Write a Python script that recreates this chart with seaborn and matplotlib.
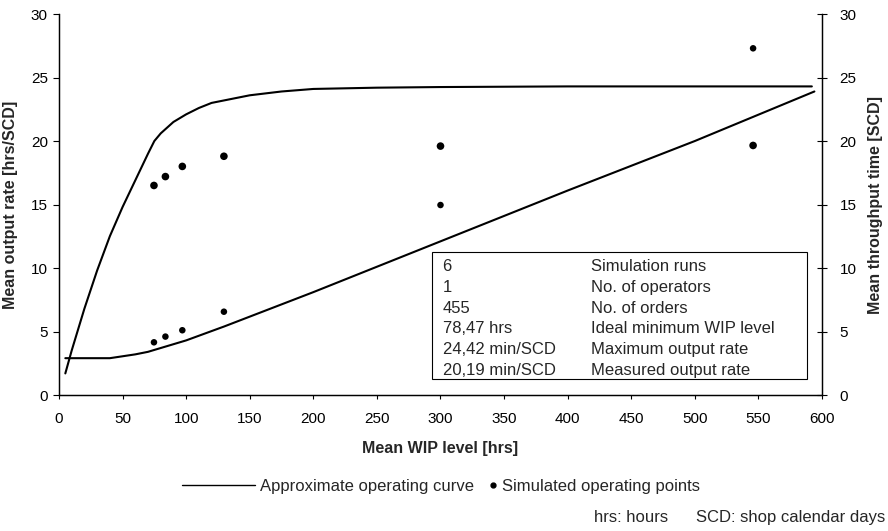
import matplotlib
matplotlib.use("Agg")
import matplotlib.pyplot as plt
import seaborn as sns
import pandas as pd
from matplotlib.lines import Line2D
from matplotlib.patches import Rectangle

sns.set_style("white")
plt.rcParams['font.family'] = ['Liberation Sans', 'DejaVu Sans']
plt.rcParams['font.size'] = 12

# approximate operating curve - output rate (left axis)
wip_out = [5, 10, 20, 30, 40, 50, 60, 70, 75, 80, 90, 100, 110, 120, 130, 150, 175, 200, 250, 300, 400, 500, 592]
rate_out = [1.7, 3.5, 6.8, 9.8, 12.5, 14.8, 16.9, 19.0, 20.0, 20.6, 21.5, 22.1, 22.6, 23.0, 23.2, 23.6, 23.9, 24.1, 24.2, 24.25, 24.3, 24.3, 24.3]

# approximate operating curve - throughput time (right axis)
wip_tt = [5, 20, 40, 50, 60, 70, 80, 90, 100, 130, 200, 300, 400, 500, 594]
time_tt = [2.9, 2.9, 2.9, 3.05, 3.2, 3.4, 3.7, 4.0, 4.3, 5.4, 8.1, 12.1, 16.1, 20.0, 23.9]

# simulated operating points
sim_wip = [74.7, 83.7, 97, 129.7, 300, 545.8]
sim_rate = [16.5, 17.2, 18.0, 18.8, 19.6, 19.65]
sim_time = [4.15, 4.6, 5.1, 6.56, 14.96, 27.3]

info_values = ['6', '1', '455', '78,47 hrs', '24,42 min/SCD', '20,19 min/SCD']
info_labels = ['Simulation runs', 'No. of operators', 'No. of orders',
               'Ideal minimum WIP level', 'Maximum output rate', 'Measured output rate']

out_df = pd.DataFrame({'wip': wip_out, 'val': rate_out})
tt_df = pd.DataFrame({'wip': wip_tt, 'val': time_tt})
sim_df = pd.DataFrame({'wip': sim_wip, 'rate': sim_rate, 'time': sim_time})

fig = plt.figure(figsize=(8.88, 5.31), dpi=100)
ax = fig.add_axes([0.0664, 0.2561, 0.8593, 0.7175])
ax2 = ax.twinx()

sns.lineplot(data=out_df, x='wip', y='val', ax=ax, color='black', linewidth=1.5)
sns.scatterplot(data=sim_df, x='wip', y='rate', ax=ax, color='black', s=30, edgecolor='none')
sns.lineplot(data=tt_df, x='wip', y='val', ax=ax2, color='black', linewidth=1.5)
sns.scatterplot(data=sim_df, x='wip', y='time', ax=ax2, color='black', s=22, edgecolor='none')

for a in (ax, ax2):
    a.set_xlim(0, 600)
    a.set_ylim(0, 30)
    a.set_yticks(range(0, 31, 5))
    a.spines['top'].set_visible(False)
    for s in a.spines.values():
        s.set_color('black')
        s.set_linewidth(0.9)

ax.set_xticks(range(0, 601, 50))
ax.tick_params(axis='x', direction='out', length=3, width=0.8, colors='black',
               labelsize=11, pad=9, bottom=True)
ax.tick_params(axis='y', direction='out', length=4, width=0.8, colors='black',
               labelsize=11, pad=4, left=True)
ax2.tick_params(axis='y', direction='inout', length=7, width=0.8, colors='black',
                labelsize=11, pad=9, right=True)

ax.set_xlabel('Mean WIP level [hrs]', fontweight='bold', fontsize=11.5)
ax.set_ylabel('Mean output rate [hrs/SCD]', fontweight='bold', fontsize=11.5)
ax2.set_ylabel('Mean throughput time [SCD]', fontweight='bold', fontsize=11.5)
ax.xaxis.set_label_coords(0.5, -0.12)
ax.yaxis.set_label_coords(-0.054, 0.5)
ax2.yaxis.set_label_coords(1.060, 0.5)

# info box
ax2.add_patch(Rectangle((293, 1.24), 295, 10.04, fill=False, edgecolor='black', linewidth=0.8, zorder=3))
for i, (v, l) in enumerate(zip(info_values, info_labels)):
    y = 10.1 - i * 1.63
    ax2.text(301.6, y, v, va='center', ha='left', fontsize=12)
    ax2.text(418, y, l, va='center', ha='left', fontsize=12)

# legend below
leg1 = fig.legend(handles=[Line2D([], [], color='black', linewidth=1.0)],
                  labels=['Approximate operating curve'], loc='center left',
                  bbox_to_anchor=(0.2046, 0.0847), frameon=False, handlelength=4.4,
                  handletextpad=0.3, fontsize=12, borderpad=0, borderaxespad=0)
leg2 = fig.legend(handles=[Line2D([], [], color='black', marker='o', linestyle='none', markersize=3.5)],
                  labels=['Simulated operating points'], loc='center left',
                  bbox_to_anchor=(0.551, 0.0847), frameon=False, handlelength=0.4,
                  handletextpad=0.35, fontsize=12, borderpad=0, borderaxespad=0)

fig.text(0.752, 0.0245, 'hrs: hours', ha='right', va='center', fontsize=12)
fig.text(0.9966, 0.0245, 'SCD: shop calendar days', ha='right', va='center', fontsize=12)

fig.savefig('out.png', dpi=100)
